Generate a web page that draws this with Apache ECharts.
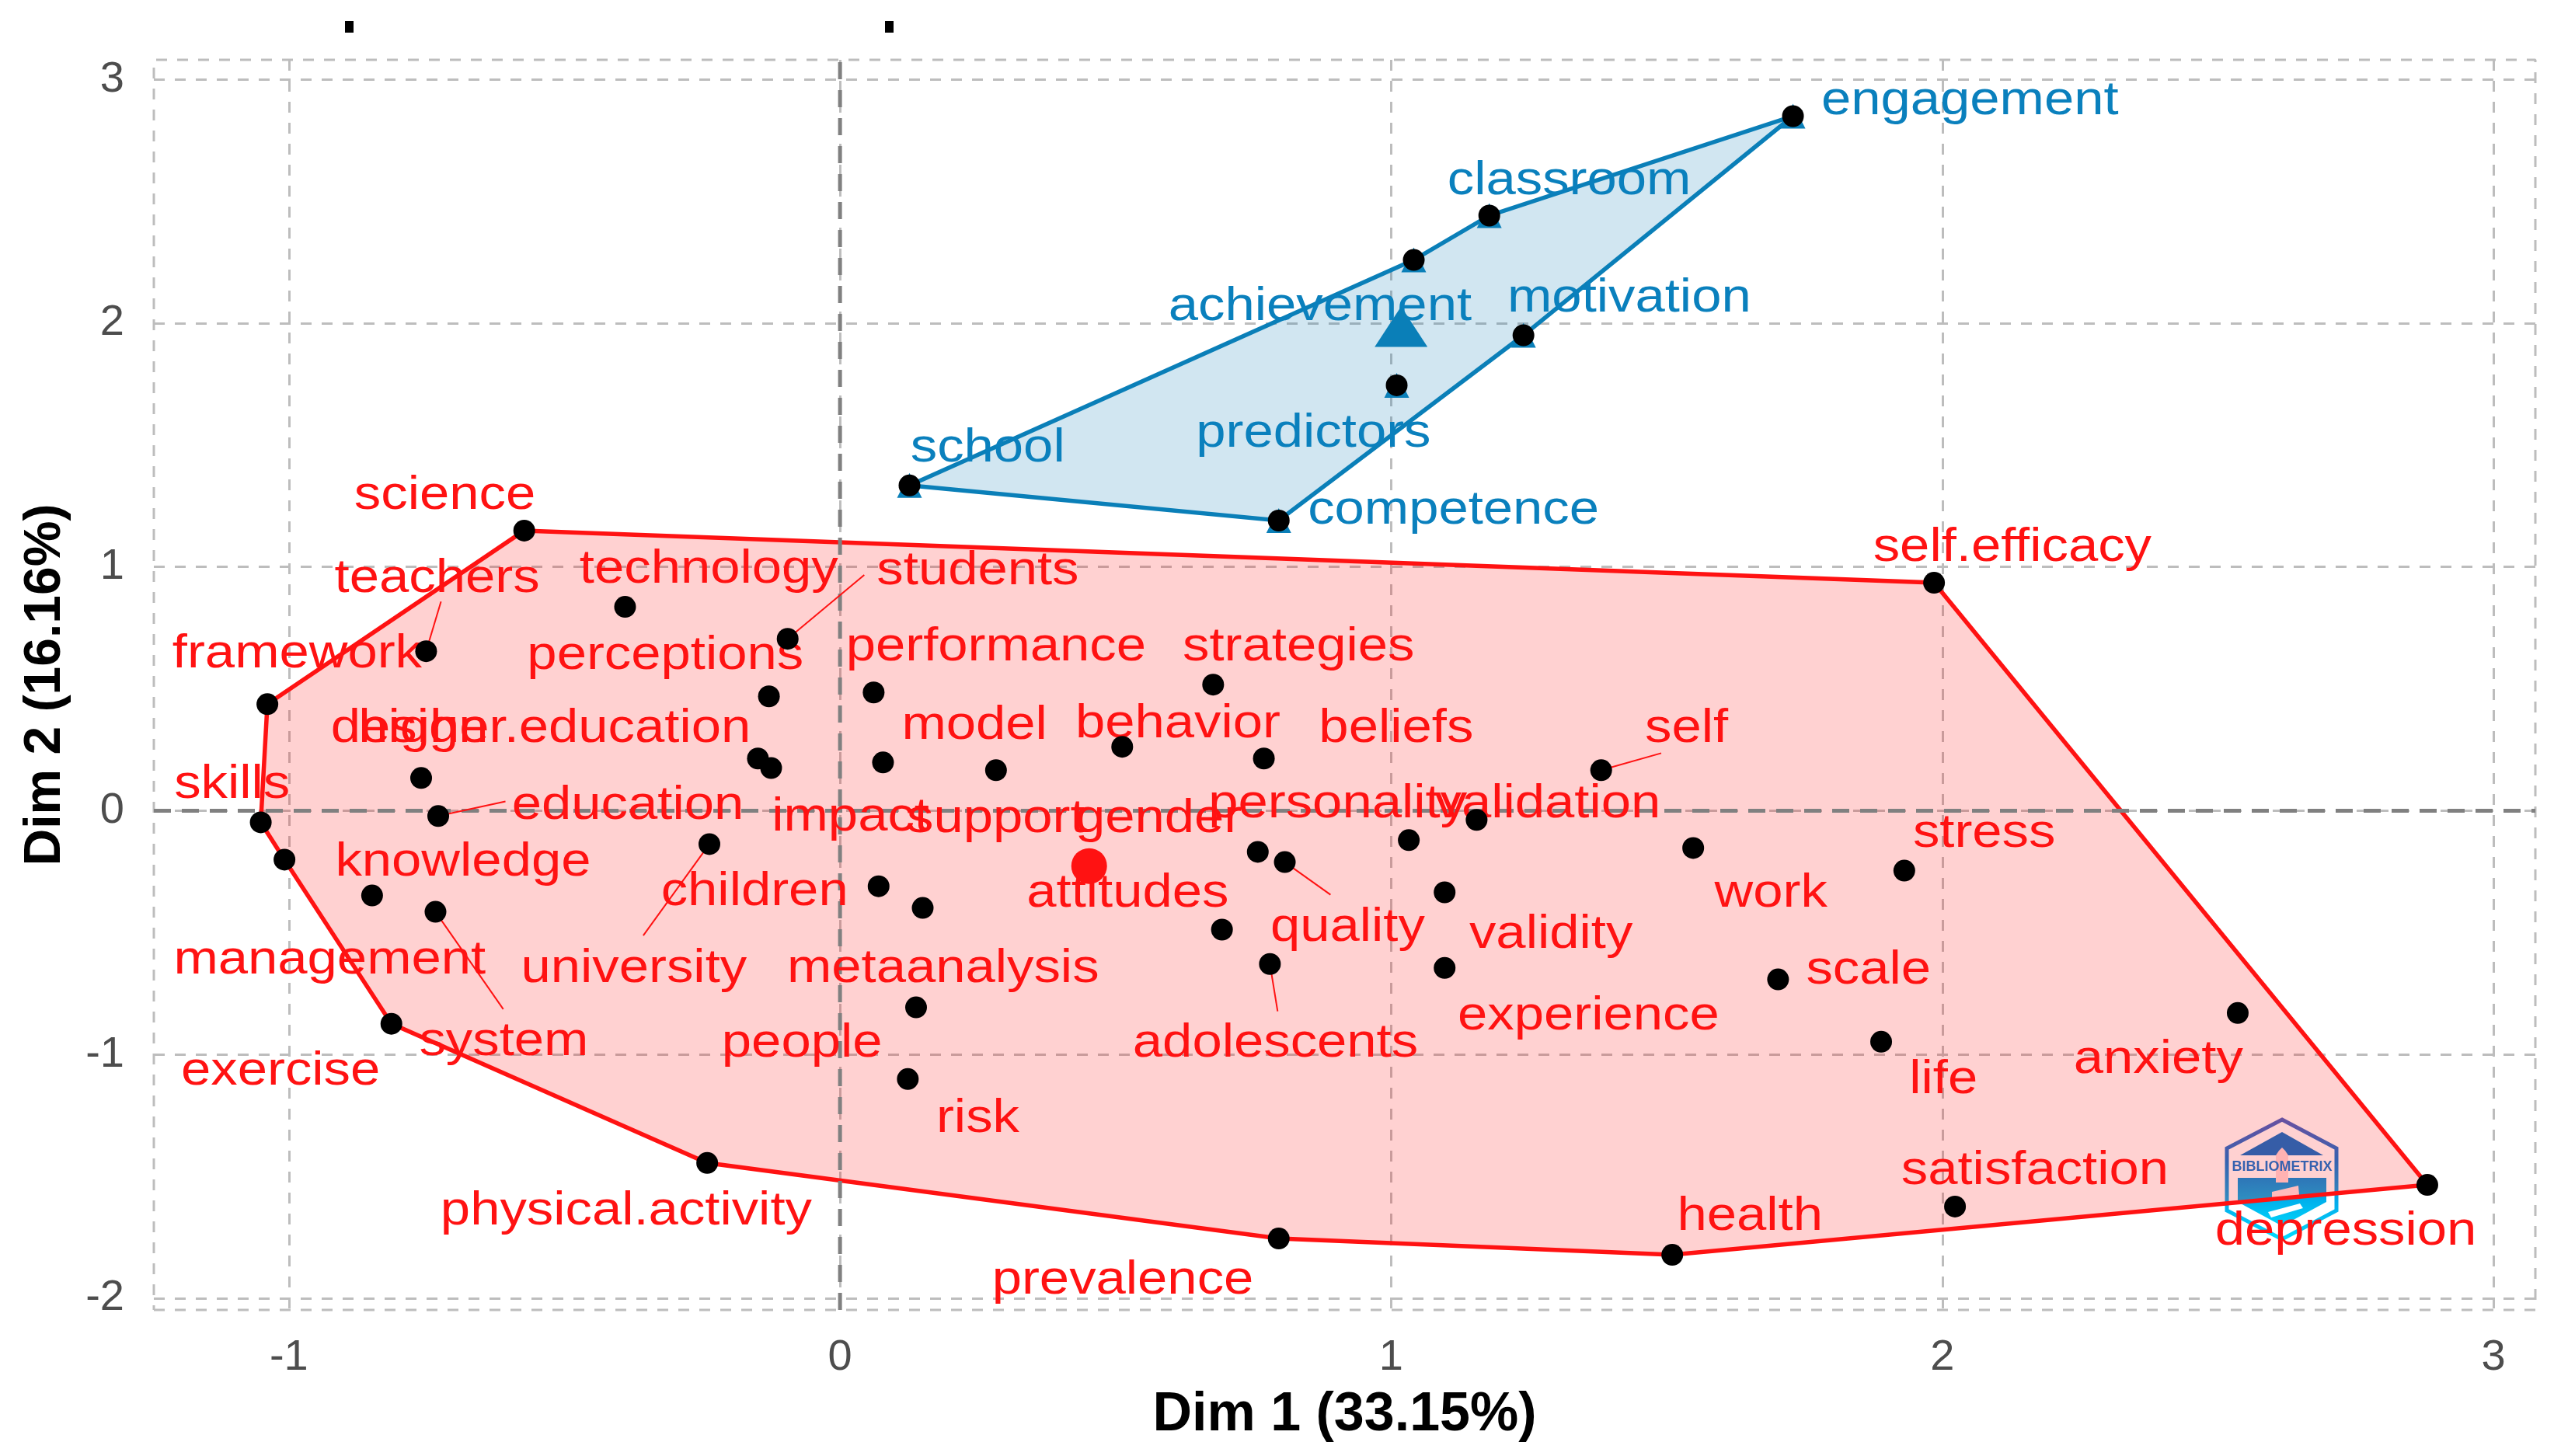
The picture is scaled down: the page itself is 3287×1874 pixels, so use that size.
<!DOCTYPE html>
<html><head><meta charset="utf-8">
<style>html,body{margin:0;padding:0;background:#fff}#c{width:3287px;height:1874px}</style>
<script src="https://cdn.jsdelivr.net/npm/echarts@6/dist/echarts.min.js"></script>
</head><body><div id="c"></div>
<script>
// keyword, Dim1, Dim2
const redPoints = [
 ['science',-0.573,1.149],['teachers',-0.751,0.654],['technology',-0.390,0.836],['students',-0.095,0.705],
 ['framework',-1.039,0.437],['perceptions',-0.129,0.469],['design',-0.760,0.134],['education',-0.729,-0.022],
 ['higher.education',-0.149,0.214],['impact',-0.125,0.175],['skills',-1.051,-0.048],['management',-1.008,-0.201],
 ['knowledge',-0.849,-0.348],['system',-0.734,-0.415],['university',-0.237,-0.137],['exercise',-0.814,-0.874],
 ['physical.activity',-0.241,-1.445],['performance',0.061,0.485],['model',0.078,0.198],['support',0.283,0.166],
 ['behavior',0.512,0.262],['strategies',0.677,0.517],['beliefs',0.769,0.214],['gender',0.758,-0.169],
 ['quality',0.807,-0.211],['personality',1.032,-0.121],['validity',1.097,-0.335],['experience',1.097,-0.645],
 ['attitudes',0.693,-0.488],['adolescents',0.780,-0.629],['children',0.070,-0.310],['metaanalysis',0.150,-0.399],
 ['people',0.138,-0.807],['risk',0.123,-1.101],['prevalence',0.796,-1.755],['self.efficacy',1.985,0.935],
 ['self',1.381,0.166],['validation',1.155,-0.038],['work',1.548,-0.153],['stress',1.931,-0.246],
 ['scale',1.702,-0.692],['life',1.889,-0.948],['health',1.510,-1.822],['satisfaction',2.023,-1.624],
 ['anxiety',2.536,-0.830],['depression',2.880,-1.535]
];
const bluePoints = [
 ['engagement',1.729,2.849],['classroom',1.178,2.441],['achievement',1.041,2.259],['motivation',1.240,1.950],
 ['predictors',1.010,1.745],['school',0.126,1.334],['competence',0.796,1.190]
];
const redCentroid = [[0.452,-0.227]];
const blueCentroid = [[1.018,1.985]];
const redHull = ['science','self.efficacy','depression','health','prevalence','physical.activity','exercise','management','skills','framework'];
const blueHull = ['school','achievement','classroom','engagement','motivation','competence'];
// where each repelled label sits, in Dim units
const redLabelSpots = {
 'science':[-0.717,1.292],'teachers':[-0.731,0.951],'technology':[-0.238,0.991],'students':[0.250,0.984],
 'framework':[-0.985,0.643],'perceptions':[-0.317,0.636],'performance':[0.283,0.670],'strategies':[0.832,0.670],
 'design':[-0.781,0.335],'higher.education':[-0.518,0.335],'model':[0.244,0.349],'behavior':[0.613,0.355],
 'beliefs':[1.009,0.335],'self':[1.536,0.335],'self.efficacy':[2.127,1.078],'skills':[-1.103,0.108],
 'education':[-0.385,0.021],'impact':[0.019,-0.026],'support':[0.283,-0.033],'gender':[0.578,-0.033],
 'personality':[0.903,0.027],'validation':[1.284,0.027],'knowledge':[-0.684,-0.213],'children':[-0.155,-0.334],
 'attitudes':[0.522,-0.340],'work':[1.689,-0.340],'stress':[2.076,-0.093],'quality':[0.921,-0.481],
 'validity':[1.290,-0.508],'management':[-0.926,-0.615],'university':[-0.374,-0.648],'metaanalysis':[0.187,-0.648],
 'scale':[1.866,-0.655],'experience':[1.358,-0.842],'system':[-0.610,-0.949],'people':[-0.069,-0.956],
 'adolescents':[0.790,-0.956],'exercise':[-1.015,-1.070],'life':[2.002,-1.103],'anxiety':[2.392,-1.023],
 'risk':[0.250,-1.265],'satisfaction':[2.168,-1.477],'physical.activity':[-0.388,-1.644],'health':[1.651,-1.665],
 'depression':[2.732,-1.725],'prevalence':[0.513,-1.926]
};
const blueLabelSpots = {
 'engagement':[2.050,2.910],'classroom':[1.323,2.583],'achievement':[0.871,2.068],'motivation':[1.432,2.101],
 'predictors':[0.859,1.546],'school':[0.268,1.486],'competence':[1.113,1.231]
};
// far end of the thin connector for labels pushed away from their point
const connectorEnds = {
 'teachers':[-0.724,0.858],'students':[0.044,0.967],'education':[-0.607,0.038],'university':[-0.357,-0.512],
 'system':[-0.611,-0.814],'quality':[0.890,-0.345],'adolescents':[0.794,-0.823],'self':[1.490,0.236]
};
const xTicks = [-1,0,1,2,3];
const yTicks = [-2,-1,0,1,2,3];
const xRange = [-1.245,3.076];
const yRange = [-2.048,3.08];
const xTitle = 'Dim 1 (33.15%)';
const yTitle = 'Dim 2 (16.16%)';

const FONT='"Liberation Sans", Arial, sans-serif';
const RED='#ff1212', BLUE='#0a80bd';
const lookup=(pts,n)=>{const p=pts.find(q=>q[0]===n);return [p[1],p[2]];};
const polySeries=(pts,hull,fill,stroke)=>({
  type:'custom',coordinateSystem:'cartesian2d',z:2,silent:true,clip:false,
  data:hull.map(n=>lookup(pts,n)),
  encode:{x:0,y:1},
  renderItem:(params,api)=>{
    if(params.dataIndex!==0) return null;
    const c=[];
    for(let i=0;i<hull.length;i++){c.push(api.coord(lookup(pts,hull[i])));}
    return {type:'polygon',shape:{points:c},style:{fill:fill,stroke:stroke,lineWidth:5.5}};
  }
});
const labelSeries=(spots,color)=>({
  type:'custom',coordinateSystem:'cartesian2d',z:4,silent:true,clip:false,
  data:Object.keys(spots).map(k=>[spots[k][0],spots[k][1],k]),
  encode:{x:0,y:1},
  renderItem:(params,api)=>{
    const p=api.coord([api.value(0),api.value(1)]);
    return {type:'text',x:p[0],y:p[1],scaleX:1.11,
      style:{text:Object.keys(spots)[params.dataIndex],fill:color,font:'62px '+FONT,align:'center',verticalAlign:'middle'}};
  }
});
const refLine=(a,b,color,w,dash,z)=>({
  type:'line',data:[a,b],symbol:'none',silent:true,clip:false,z:z,animation:false,
  lineStyle:{color:color,width:w,type:dash}
});
const frame={
  type:'line',symbol:'none',silent:true,clip:false,z:1,
  data:[[xRange[0],yRange[0]],[xRange[1],yRange[0]],[xRange[1],yRange[1]],[xRange[0],yRange[1]],[xRange[0],yRange[0]]],
  lineStyle:{color:'#bdbdbd',width:3,type:[14,13]}
};
const connectors=Object.keys(connectorEnds).map(k=>refLine(lookup(redPoints,k),connectorEnds[k],RED,2,'solid',3));
const axisCommon={
  type:'value',axisLine:{show:false},axisTick:{show:false},
  splitLine:{show:true,lineStyle:{color:'#bdbdbd',width:3,type:[14,13]}},
};
const gradHex={type:'linear',x:0,y:0,x2:0,y2:1,colorStops:[{offset:0,color:'#4a62c4'},{offset:.35,color:'#0a78d6'},{offset:1,color:'#00dcff'}]};
const gradBody={type:'linear',x:0,y:0,x2:0,y2:1,colorStops:[{offset:0,color:'#0090e0'},{offset:1,color:'#00d4fa'}]};
const chart=echarts.init(document.getElementById('c'),null,{renderer:'canvas'});
chart.setOption({
  animation:false,backgroundColor:'#fff',
  textStyle:{fontFamily:FONT},
  grid:{left:198,right:24,top:77,bottom:188,containLabel:false,outerBoundsMode:'none'},
  xAxis:Object.assign({},axisCommon,{min:xRange[0],max:xRange[1],
    axisTick:{show:false,customValues:xTicks},
    axisLabel:{customValues:xTicks,fontSize:56,color:'#4d4d4d',margin:34,fontFamily:FONT,showMinLabel:true,showMaxLabel:true},
    name:xTitle,nameLocation:'middle',nameGap:101,
    nameTextStyle:{fontSize:70,fontWeight:'bold',color:'#000',fontFamily:FONT}}),
  yAxis:Object.assign({},axisCommon,{min:yRange[0],max:yRange[1],
    axisTick:{show:false,customValues:yTicks},
    axisLabel:{customValues:yTicks,fontSize:56,color:'#4d4d4d',margin:38,fontFamily:FONT,showMinLabel:true,showMaxLabel:true},
    name:yTitle,nameLocation:'middle',nameGap:106,
    nameTextStyle:{fontSize:66,fontWeight:'bold',color:'#000',fontFamily:FONT}}),
  series:[
    frame,
    polySeries(redPoints,redHull,'rgba(255,0,0,0.18)','#ff1212'),
    polySeries(bluePoints,blueHull,'rgba(0,114,178,0.18)','#0a7fb8'),
    refLine([xRange[0],0],[xRange[1],0],'#808080',5,[22,14],3),
    refLine([0,yRange[0]],[0,yRange[1]],'#808080',5,[22,14],3),
    ...connectors,
    labelSeries(redLabelSpots,RED),
    labelSeries(blueLabelSpots,BLUE),
    {type:'scatter',z:5,silent:true,symbol:'triangle',symbolSize:32,itemStyle:{color:'#0a7fb8',opacity:1},data:bluePoints.map(p=>[p[1],p[2]])},
    {type:'scatter',z:6,silent:true,symbol:'circle',symbolSize:28,itemStyle:{color:'#000',opacity:1},data:bluePoints.map(p=>[p[1],p[2]])},
    {type:'scatter',z:6,silent:true,symbol:'circle',symbolSize:28,itemStyle:{color:'#000',opacity:1},data:redPoints.map(p=>[p[1],p[2]])},
    {type:'scatter',z:6,silent:true,symbol:'circle',symbolSize:46,itemStyle:{color:'#ff1212',opacity:1},data:redCentroid},
    {type:'scatter',z:6,silent:true,symbol:'triangle',symbolSize:[68,52],itemStyle:{color:'#0a7fb8',opacity:1},data:blueCentroid}
  ],
  graphic:[
    {type:'rect',shape:{x:444,y:27,width:11,height:15},style:{fill:'#000'},z:20},
    {type:'rect',shape:{x:1139,y:27,width:11,height:15},style:{fill:'#000'},z:20},
    {type:'group',z:20,children:[
      {type:'polygon',shape:{points:[[2880,1516],[2994,1516],[2994,1547],[2937,1578],[2880,1547]]},style:{fill:gradBody}},
      {type:'polygon',shape:{points:[[2937,1457],[2990,1487],[2883,1487]]},style:{fill:'#0a72cc'}},
      {type:'polygon',shape:{points:[[2937,1441],[3007,1478],[3007,1558],[2937,1595],[2866,1558],[2866,1478]]},style:{fill:'none',stroke:gradHex,lineWidth:5}},
      {type:'polygon',shape:{points:[[2929,1487],[2933,1481],[2937,1477],[2941,1481],[2945,1487],[2945,1522],[2929,1522]]},style:{fill:'#ffd9d9'}},
      {type:'polygon',shape:{points:[[2924,1534],[2958,1526],[2959,1538],[2924,1544]]},style:{fill:'#ffe4e4'}},
      {type:'polygon',shape:{points:[[2919,1560],[2960,1549],[2964,1555],[2923,1567]]},style:{fill:'#fff'}},
      {type:'text',x:2937,y:1502,style:{text:'BIBLIOMETRIX',fill:'#0a78d6',font:'bold 18px '+FONT,align:'center',verticalAlign:'middle'}}
    ]}
  ]
});
</script></body></html>
